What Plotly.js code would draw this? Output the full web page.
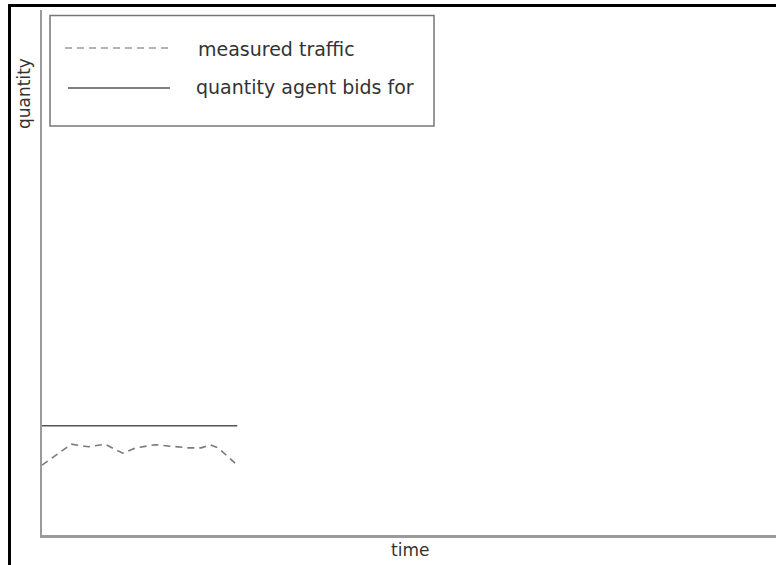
<!DOCTYPE html>
<html>
<head>
<meta charset="utf-8">
<script src="https://cdn.plot.ly/plotly-3.0.1.min.js"></script>
<style>html,body{margin:0;padding:0;background:#fff;}#chart{width:776px;height:565px;}</style>
</head>
<body>
<div id="chart"></div>
<script>
// Data (arbitrary units)
const bidTime = [0, 26.6];
const bidQuantity = [20.8, 20.8];
const trafficTime = [0, 4, 6.3, 8.6, 10.4, 11, 12.8, 15.4, 17.6, 19.9, 21.7, 22.9, 24, 26.3];
const trafficQuantity = [13.3, 17.3, 16.8, 17.3, 16.0, 15.6, 16.6, 17.2, 16.9, 16.6, 16.6, 17.2, 16.6, 13.7];
const seriesNames = ["measured traffic", "quantity agent bids for"];
const axisTitles = {x: "time", y: "quantity"};

const FONT = "DejaVu Sans, Liberation Sans, Arial, sans-serif";

const traces = [
  {x: trafficTime, y: trafficQuantity, mode: "lines", name: seriesNames[0],
   line: {color: "#7a7a7a", width: 1.6, dash: "7px,5px"}, showlegend: false, hoverinfo: "skip"},
  {x: bidTime, y: bidQuantity, mode: "lines", name: seriesNames[1],
   line: {color: "#555555", width: 1.6}, showlegend: false, hoverinfo: "skip"}
];

// pixel helpers for paper coordinates (plot area: x 42..776, y 10..535)
const px = v => (v - 42) / 734;
const py = v => (535 - v) / 525;

const shapes = [
  // page frame (black)
  {type: "line", xref: "paper", yref: "paper", x0: px(9.5), x1: px(9.5), y0: py(4), y1: py(566), line: {color: "#000", width: 3}},
  {type: "line", xref: "paper", yref: "paper", x0: px(8), x1: px(777), y0: py(5.5), y1: py(5.5), line: {color: "#000", width: 3}},
  // legend box
  {type: "rect", xref: "paper", yref: "paper", x0: px(50), x1: px(434), y0: py(126), y1: py(15.5), line: {color: "#777", width: 1.5}, fillcolor: "rgba(255,255,255,0)"},
  // legend samples
  {type: "line", xref: "paper", yref: "paper", x0: px(65), x1: px(168), y0: py(48), y1: py(48), line: {color: "#9a9a9a", width: 1.6, dash: "7px,5px"}},
  {type: "line", xref: "paper", yref: "paper", x0: px(68), x1: px(170), y0: py(88), y1: py(88), line: {color: "#555555", width: 1.6}}
];

const annotations = [
  {xref: "paper", yref: "paper", x: px(196), y: py(48.5), xanchor: "left", yanchor: "middle", showarrow: false,
   text: seriesNames[0], font: {family: FONT, size: 19, color: "#333"}},
  {xref: "paper", yref: "paper", x: px(194), y: py(87), xanchor: "left", yanchor: "middle", showarrow: false,
   text: seriesNames[1], font: {family: FONT, size: 19, color: "#333"}},
  {xref: "paper", yref: "paper", x: px(410), y: py(550), xanchor: "center", yanchor: "middle", showarrow: false,
   text: axisTitles.x, font: {family: FONT, size: 17, color: "#333"}},
  {xref: "paper", yref: "paper", x: px(24), y: py(94), xanchor: "center", yanchor: "middle", showarrow: false, textangle: -90,
   text: axisTitles.y, font: {family: FONT, size: 17, color: "#333"}}
];

const axisCommon = {showline: true, linecolor: "#9a9a9a", linewidth: 2.5, showgrid: false, zeroline: false,
  showticklabels: false, ticks: "", fixedrange: true};

const layout = {
  width: 776, height: 565,
  margin: {l: 42, r: 0, t: 10, b: 30, pad: 0},
  paper_bgcolor: "#fff", plot_bgcolor: "#fff",
  showlegend: false,
  xaxis: Object.assign({range: [0, 100]}, axisCommon),
  yaxis: Object.assign({range: [0, 100]}, axisCommon),
  shapes: shapes,
  annotations: annotations,
  font: {family: FONT}
};

Plotly.newPlot("chart", traces, layout, {staticPlot: true, displayModeBar: false});
</script>
</body>
</html>
